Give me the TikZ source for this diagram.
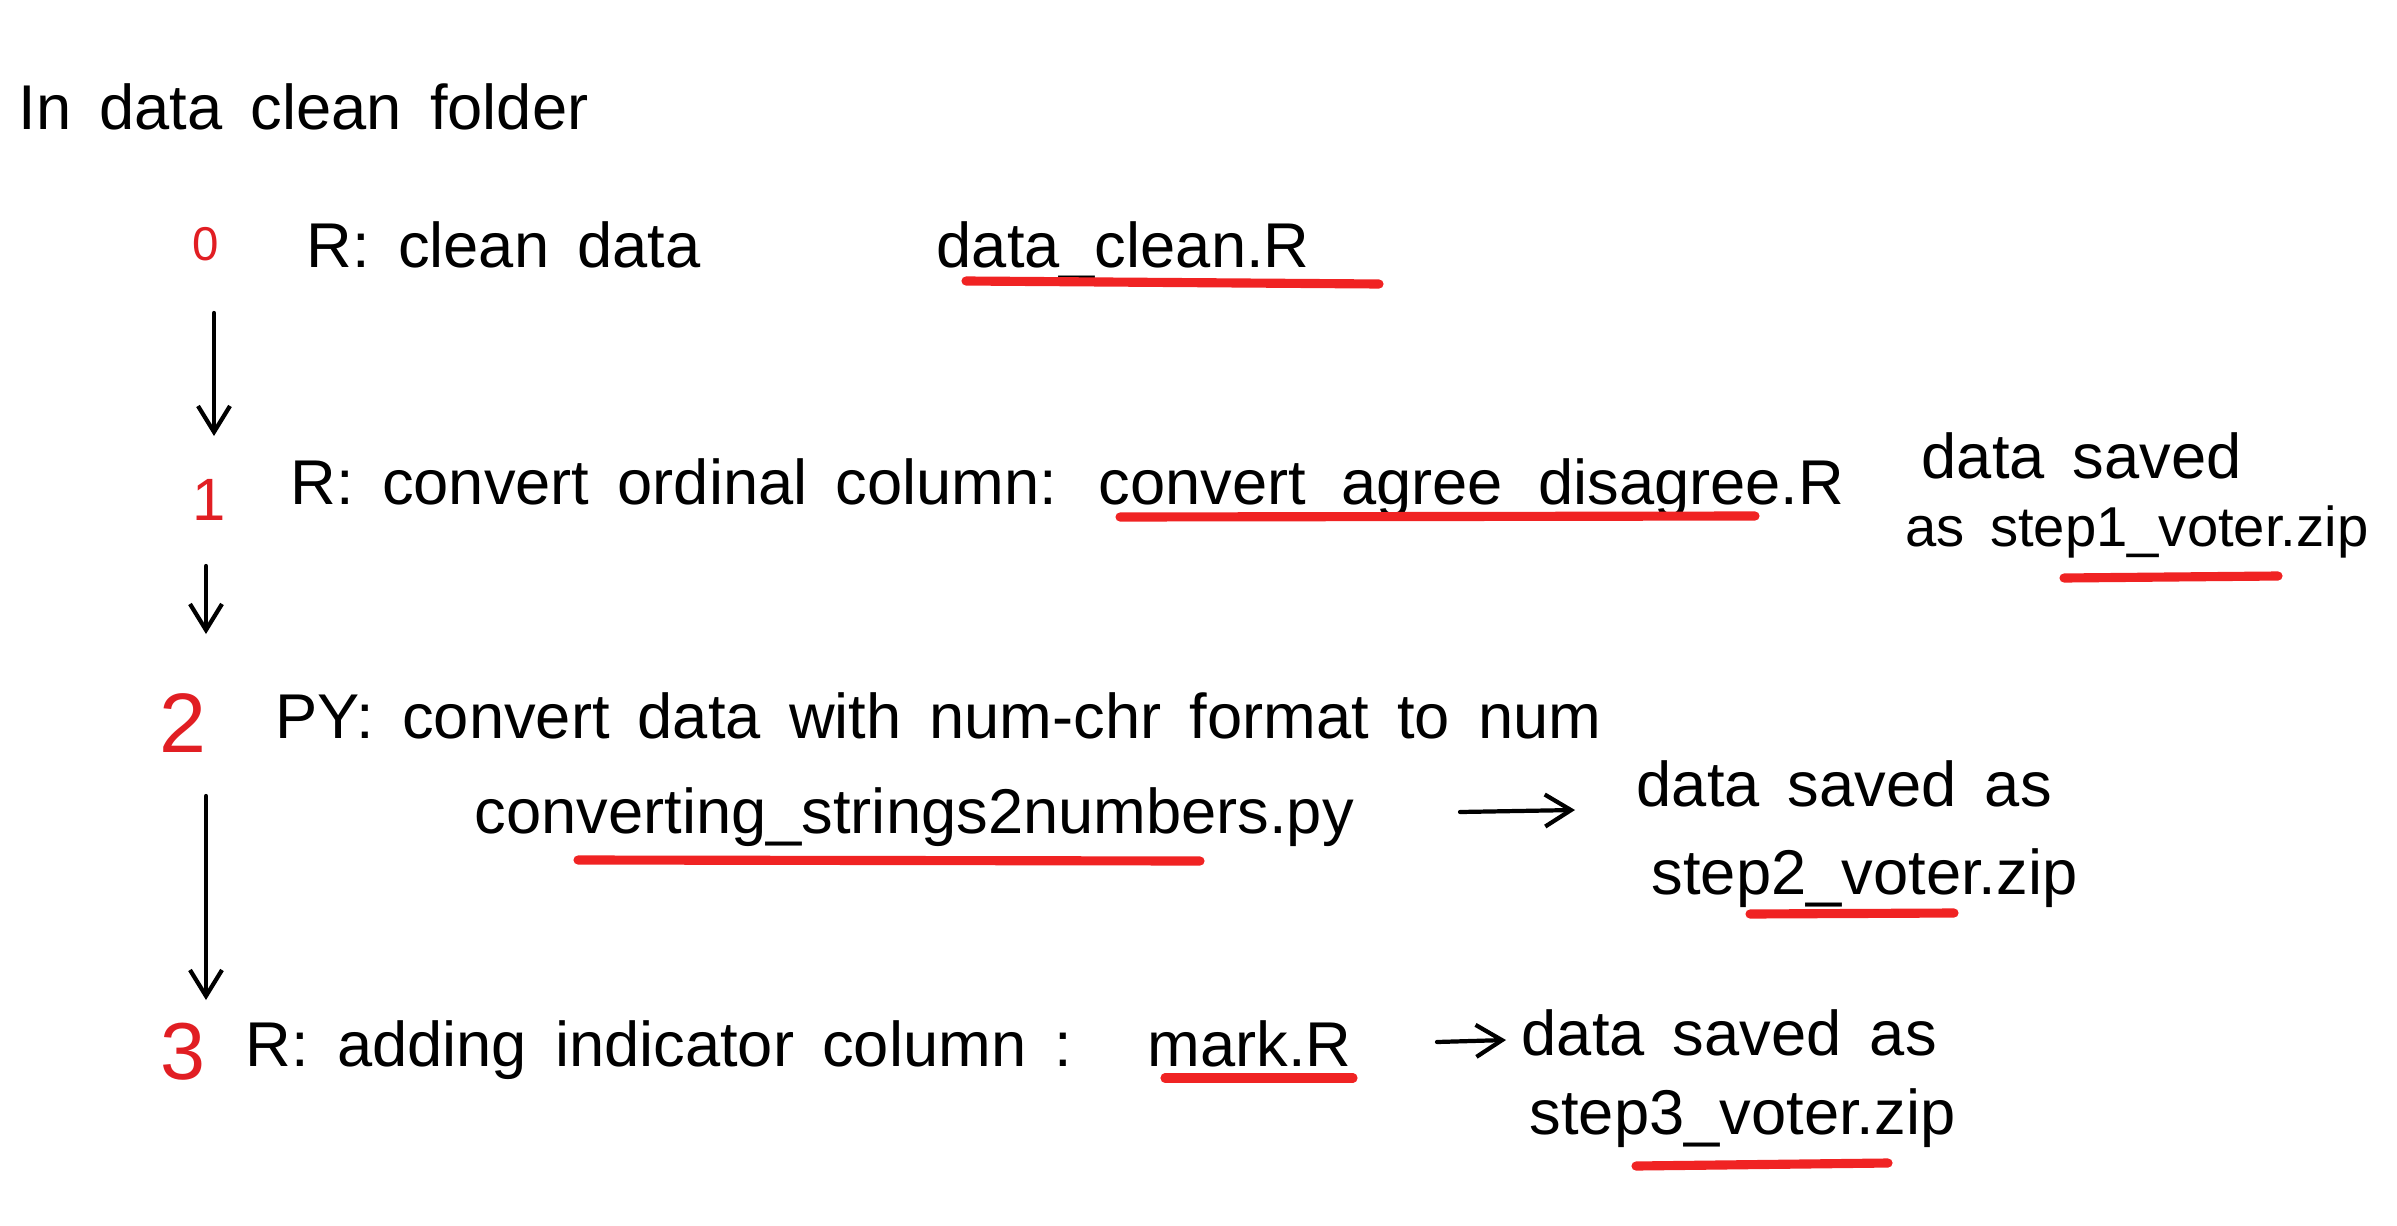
\documentclass[tikz,border=0pt]{standalone}
\usepackage{fontspec}
\setmainfont[WordSpace=1.6]{Liberation Sans}
\usetikzlibrary{arrows.meta}
\definecolor{penred}{RGB}{225,30,35}
\definecolor{markred}{RGB}{240,35,35}
\begin{document}
\begin{tikzpicture}[x=0.1mm,y=-0.1mm,
  txt/.style={anchor=base west, inner sep=0pt, font=\fontsize{18}{21}\selectfont},
  num/.style={anchor=base, inner sep=0pt, text=penred},
  uline/.style={draw=markred, line width=2.6pt, line cap=round},
  arr/.style={draw=black, line width=1.2pt, line cap=round, -{Straight Barb[length=2.6mm,width=3.2mm,line width=1.2pt]}}]
\fill[white] (0,0) rectangle (2397,1226);
% title
\node[txt] (title) at (18,130) {In data clean folder};
% row 0
\node[num,font=\fontsize{13.5}{16}\selectfont] (n0) at (206,260) {0};
\node[txt] (t0) at (306,267) {R: clean data};
\node[txt] (f0) at (936,267) {data\_clean.R};
% row 1
\node[num,font=\fontsize{17}{20}\selectfont] (n1) at (209,520) {1};
\node[txt] (t1) at (290,504) {R: convert ordinal column:};
\node[txt] (f1) at (1098,504) {convert\_agree\_disagree.R};
\node[txt] (s1a) at (1921,478) {data saved};
\node[txt,font=\fontsize{16}{19}\selectfont] (s1b) at (1905,546) {as step1\_voter.zip};
% row 2
\node[num,font=\fontsize{24}{28}\selectfont] (n2) at (183,752) {2};
\node[txt] (t2) at (275,738) {PY: convert data with num-chr format to num};
\node[txt] (f2) at (474,833) {converting\_strings2numbers.py};
\node[txt] (s2a) at (1636,806) {data saved as};
\node[txt] (s2b) at (1651,894) {step2\_voter.zip};
% row 3
\node[num,font=\fontsize{23}{27}\selectfont] (n3) at (183,1079) {3};
\node[txt] (t3) at (245,1066) {R: adding indicator column :};
\node[txt] (f3) at (1147,1066) {mark.R};
\node[txt] (s3a) at (1521,1055) {data saved as};
\node[txt] (s3b) at (1529,1134) {step3\_voter.zip};
% red underlines
\draw[uline] (966,281) -- (1379,284);
\draw[uline] (1120,517) -- (1755,516);
\draw[uline] (2064,578) -- (2278,576);
\draw[uline] (578,860) -- (1200,861);
\draw[uline] (1750,914) -- (1954,913);
\draw[uline] (1165,1078) -- (1353,1078);
\draw[uline] (1636,1166) -- (1888,1163);
% arrow end points
\coordinate (a01s) at (214,313); \coordinate (a01e) at (214,436);
\coordinate (a12s) at (206,566); \coordinate (a12e) at (206,634);
\coordinate (a23s) at (206,796); \coordinate (a23e) at (206,1000);
\coordinate (h2s) at (1460,812); \coordinate (h2e) at (1575,810);
\coordinate (h3s) at (1437,1042); \coordinate (h3e) at (1506,1040);
\draw[arr] (a01s) -- (a01e);
\draw[arr] (a12s) -- (a12e);
\draw[arr] (a23s) -- (a23e);
\draw[arr] (h2s) -- (h2e);
\draw[arr] (h3s) -- (h3e);
\end{tikzpicture}
\end{document}
